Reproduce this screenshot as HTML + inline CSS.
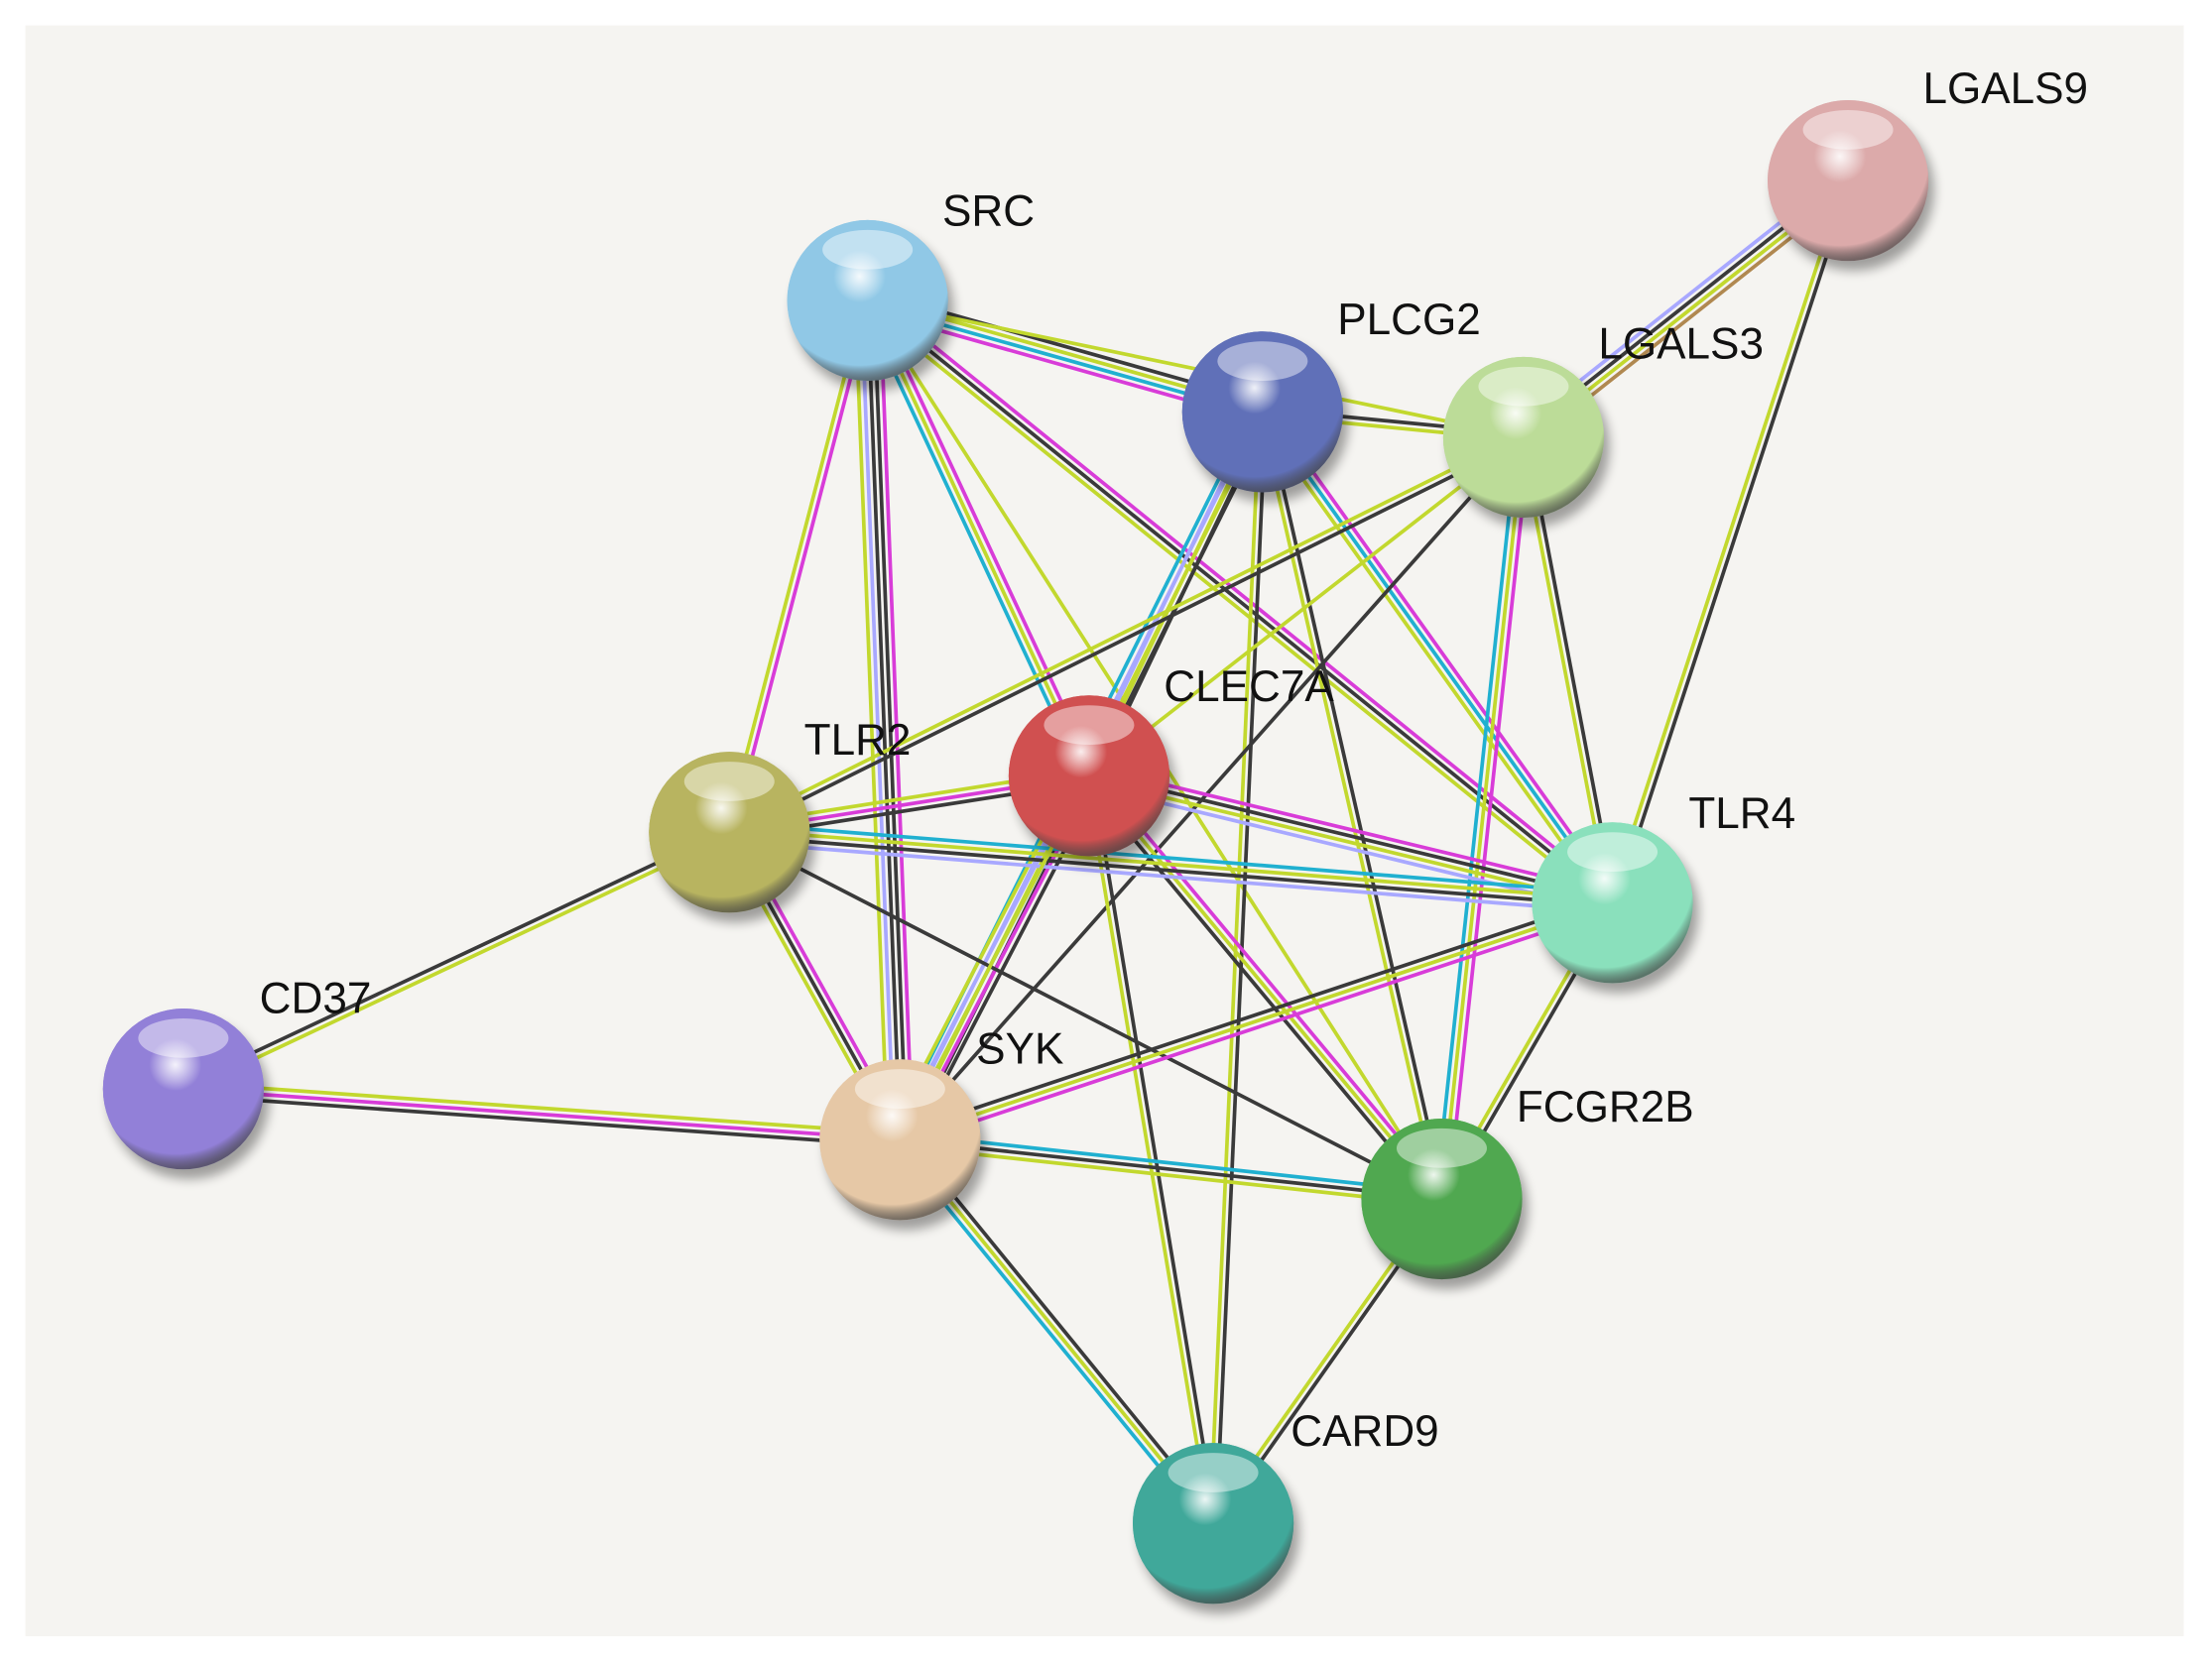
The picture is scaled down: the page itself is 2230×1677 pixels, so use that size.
<!DOCTYPE html>
<html><head><meta charset="utf-8"><style>
html,body{margin:0;padding:0;background:#fff;}
svg{display:block;}
text{font-family:"Liberation Sans",Arial,sans-serif;font-size:31px;fill:#111;}
</style></head><body>
<svg id="s" width="2230" height="1677" viewBox="0 0 1568 1179" preserveAspectRatio="none" xmlns="http://www.w3.org/2000/svg">
<defs>
<filter id="sh" x="-30%" y="-30%" width="160%" height="160%"><feGaussianBlur stdDeviation="4"/></filter>
</defs>
<rect x="18" y="18" width="1530" height="1142" fill="#f5f4f1"/>
<g id="edges"></g>
<g id="nodes"></g>
<g>
<text x="668" y="160">SRC</text>
<text x="948" y="237">PLCG2</text>
<text x="1133" y="254">LGALS3</text>
<text x="1363" y="73">LGALS9</text>
<text x="825" y="497">CLEC7A</text>
<text x="570" y="535">TLR2</text>
<text x="1197" y="587">TLR4</text>
<text x="184" y="718">CD37</text>
<text x="692" y="754">SYK</text>
<text x="1075" y="795">FCGR2B</text>
<text x="915" y="1025">CARD9</text>
</g>
</svg>
<script>
var N={SRC:[615,213,'#90c8e6'],PLCG2:[895,292,'#6070b8'],LGALS3:[1080,310,'#bcdc98'],LGALS9:[1310,128,'#dcaaaa'],
CLEC7A:[772,550,'#d05050'],TLR2:[517,590,'#b8b460'],TLR4:[1143,640,'#8ae0bc'],CD37:[130,772,'#9280d8'],
SYK:[638,808,'#e6c8a6'],FCGR2B:[1022,850,'#50a850'],CARD9:[860,1080,'#40a89a']};
var C={k:'#3a3a3a',l:'#c2d82e',m:'#d83cd8',c:'#20b0d0',v:'#a8a8ff',b:'#b08850'};
var E=[['SRC','PLCG2','klcm'],['SRC','LGALS3','l'],['SRC','TLR2','ml'],['SRC','SYK','mkkvl'],['SRC','CLEC7A','mlc'],
['SRC','TLR4','mkl'],['SRC','FCGR2B','l'],['PLCG2','LGALS3','kl'],['PLCG2','CLEC7A','klv'],['PLCG2','SYK','klvc'],
['PLCG2','TLR4','mcl'],['PLCG2','FCGR2B','kl'],['PLCG2','CARD9','kl'],['LGALS3','LGALS9','vklb'],['LGALS3','TLR2','kl'],
['LGALS3','CLEC7A','l'],['LGALS3','SYK','k'],['LGALS3','TLR4','kl'],['LGALS3','FCGR2B','mlc'],['LGALS9','TLR4','kl'],
['CLEC7A','TLR2','kml'],['CLEC7A','TLR4','mklv'],['CLEC7A','SYK','kmcvl'],['CLEC7A','FCGR2B','mlk'],['CLEC7A','CARD9','kl'],
['TLR2','TLR4','clkv'],['TLR2','SYK','mkl'],['TLR2','CD37','lk'],['TLR2','FCGR2B','k'],['TLR4','SYK','mlk'],
['TLR4','FCGR2B','kl'],['SYK','CD37','kml'],['SYK','FCGR2B','ckl'],['SYK','CARD9','klc'],['FCGR2B','CARD9','kl'],['SYK','CLEC7A','l']];
var ns='http://www.w3.org/2000/svg',eg=document.getElementById('edges'),ng=document.getElementById('nodes');
E.forEach(function(e){var a=N[e[0]],b=N[e[1]],dx=b[0]-a[0],dy=b[1]-a[1],L=Math.hypot(dx,dy),px=-dy/L,py=dx/L,n=e[2].length,g=4.4;
for(var i=0;i<n;i++){var o=(i-(n-1)/2)*g,l=document.createElementNS(ns,'line');
l.setAttribute('x1',a[0]+px*o);l.setAttribute('y1',a[1]+py*o);l.setAttribute('x2',b[0]+px*o);l.setAttribute('y2',b[1]+py*o);
l.setAttribute('stroke',C[e[2][i]]);l.setAttribute('stroke-width','2.6');eg.appendChild(l);}});
var defs=document.querySelector('defs');
Object.keys(N).forEach(function(k,i){var n=N[k];
var rg=document.createElementNS(ns,'radialGradient');rg.setAttribute('id','g'+i);rg.setAttribute('cx','0.45');rg.setAttribute('cy','0.35');rg.setAttribute('r','0.65');
rg.innerHTML='<stop offset="0" stop-color="#ffffff" stop-opacity="0.9"/><stop offset="0.25" stop-color="'+n[2]+'"/><stop offset="0.85" stop-color="'+n[2]+'"/><stop offset="1" stop-color="#444" stop-opacity="0.7"/>';
defs.appendChild(rg);
var s=document.createElementNS(ns,'circle');s.setAttribute('cx',n[0]+4);s.setAttribute('cy',n[1]+7);s.setAttribute('r',57);s.setAttribute('fill','#000');s.setAttribute('opacity','0.35');s.setAttribute('filter','url(#sh)');ng.appendChild(s);
var c=document.createElementNS(ns,'circle');c.setAttribute('cx',n[0]);c.setAttribute('cy',n[1]);c.setAttribute('r',57);c.setAttribute('fill',n[2]);ng.appendChild(c);
var c2=document.createElementNS(ns,'circle');c2.setAttribute('cx',n[0]);c2.setAttribute('cy',n[1]);c2.setAttribute('r',57);c2.setAttribute('fill','url(#g'+i+')');ng.appendChild(c2);
var h=document.createElementNS(ns,'ellipse');h.setAttribute('cx',n[0]);h.setAttribute('cy',n[1]-36);h.setAttribute('rx',32);h.setAttribute('ry',14);h.setAttribute('fill','#fff');h.setAttribute('opacity','0.45');ng.appendChild(h);});
</script>
</body></html>
